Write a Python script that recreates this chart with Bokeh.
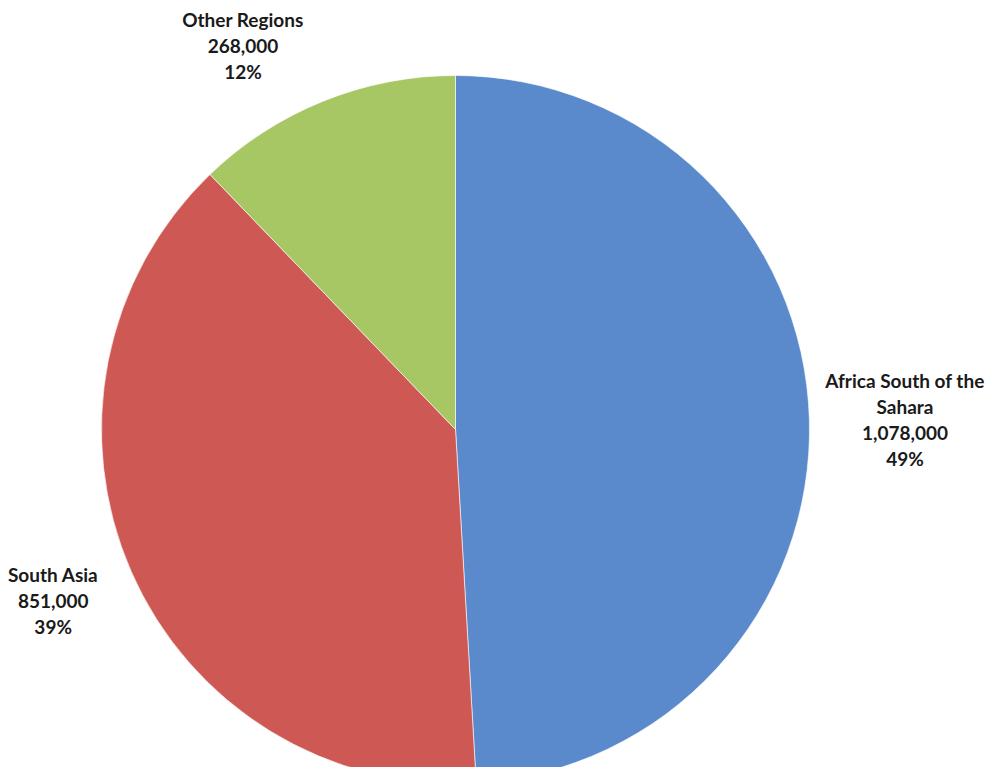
import math
from bokeh.plotting import figure
from bokeh.models import Range1d, ColumnDataSource
from bokeh.core.properties import value
from bokeh.embed import file_html
from bokeh.resources import INLINE

regions = ["Africa South of the\nSahara", "South Asia", "Other Regions"]
counts = [1078000, 851000, 268000]
percents = ["49%", "39%", "12%"]
colors = ["#5A8ACB", "#CD5854", "#A7C664"]

W, H = 990, 767
p = figure(width=W, height=H, output_backend="svg", toolbar_location=None,
           x_range=Range1d(0, W), y_range=Range1d(0, H),
           min_border=0, outline_line_color=None)
p.axis.visible = False
p.grid.visible = False
p.background_fill_color = "white"
p.border_fill_color = "white"

cx, cy, r = 455, 338, 354
total = float(sum(counts))
starts, ends, mids = [], [], []
cum = 0.0
for c in counts:
    f = c / total
    a0 = math.pi / 2 - (cum + f) * 2 * math.pi
    a1 = math.pi / 2 - cum * 2 * math.pi
    starts.append(a0)
    ends.append(a1)
    mids.append((a0 + a1) / 2)
    cum += f

src = ColumnDataSource(dict(start=starts, end=ends, color=colors))
p.wedge(x=cx, y=cy, radius=r, start_angle="start", end_angle="end",
        direction="anticlock", fill_color="color", line_color="white",
        line_width=0.6, source=src)

# label placement: radial factor and angular nudge per slice
kf = [1.27, 1.235, 1.24]
nudge = [math.radians(-0.4), math.radians(-0.6), math.radians(7)]
lx, ly, texts = [], [], []
for name, c, pc, m, k, n in zip(regions, counts, percents, mids, kf, nudge):
    a = m + n
    lx.append(cx + k * r * math.cos(a))
    ly.append(cy + k * r * math.sin(a))
    texts.append(f"{name}\n{c:,}\n{pc}")

p.text(x=lx, y=ly, text=texts, text_align="center", text_baseline="middle",
       text_font=value("Lato"), text_font_style="bold", text_font_size="19px",
       text_line_height=1.13, text_color="#1a1a1a")

open("out.html", "w").write(file_html(p, INLINE))
